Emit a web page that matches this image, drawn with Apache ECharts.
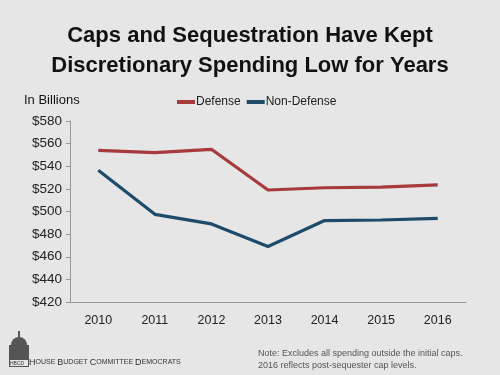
<!DOCTYPE html>
<html>
<head>
<meta charset="utf-8">
<script src="https://cdn.jsdelivr.net/npm/echarts@6/dist/echarts.min.js"></script>
<style>
  html, body { margin: 0; padding: 0; background: #e6e6e6; }
  #chart { width: 500px; height: 375px; }
</style>
</head>
<body>
<div id="chart"></div>
<script>
const years = ['2010', '2011', '2012', '2013', '2014', '2015', '2016']
const defense = [554, 552, 555, 519, 521, 521.5, 523.5]
const nonDefense = [536.5, 497.5, 489, 469, 492, 492.5, 494]

const chart = echarts.init(document.getElementById('chart'))

chart.setOption({
  backgroundColor: '#e6e6e6',
  title: {
    text: 'Caps and Sequestration Have Kept\nDiscretionary Spending Low for Years',
    left: 'center',
    top: 16,
    textStyle: {
      fontFamily: 'Liberation Sans',
      fontSize: 22,
      fontWeight: 'bold',
      color: '#111',
      lineHeight: 30,
    },
  },
  legend: {
    top: 91,
    left: 172,
    itemWidth: 18,
    itemHeight: 4,
    itemGap: 6,
    icon: 'rect',
    textStyle: { fontFamily: 'Liberation Sans', fontSize: 12, color: '#222', padding: [0, 0, 0, -4] },
    data: ['Defense', 'Non-Defense'],
  },
  grid: { left: 70, right: 34, top: 121, bottom: 73 },
  xAxis: {
    type: 'category',
    data: years,
    axisLine: { lineStyle: { color: '#999' } },
    axisTick: { lineStyle: { color: '#999' } },
    axisLabel: { fontFamily: 'Liberation Sans', fontSize: 12.5, color: '#222', margin: 12 },
  },
  yAxis: {
    type: 'value',
    name: 'In Billions',
    nameLocation: 'end',
    nameGap: 14,
    nameTextStyle: { fontFamily: 'Liberation Sans', fontSize: 13, color: '#111', align: 'left', padding: [0, 0, 0, -46] },
    min: 420,
    max: 580,
    interval: 20,
    axisLine: { show: true, lineStyle: { color: '#999' } },
    axisTick: { show: true, length: 4, lineStyle: { color: '#999' } },
    splitLine: { show: false },
    axisLabel: { fontFamily: 'Liberation Sans', fontSize: 13.5, color: '#222', margin: 8, formatter: v => '$' + v },
  },
  series: [
    {
      name: 'Defense',
      type: 'line',
      data: defense,
      showSymbol: false,
      color: '#a63a3c',
      lineStyle: { width: 3.2, color: '#a63a3c' },
    },
    {
      name: 'Non-Defense',
      type: 'line',
      data: nonDefense,
      showSymbol: false,
      color: '#1f4b6b',
      lineStyle: { width: 3.2, color: '#1f4b6b' },
    },
  ],
  graphic: [
    // simple capitol dome logo
    { type: 'rect', shape: { x: 9, y: 345, width: 20, height: 22 }, style: { fill: '#555' } },
    { type: 'circle', shape: { cx: 19, cy: 345, r: 8 }, style: { fill: '#555' } },
    { type: 'rect', shape: { x: 18, y: 331, width: 2, height: 8 }, style: { fill: '#555' } },
    { type: 'rect', shape: { x: 10, y: 360, width: 18, height: 6 }, style: { fill: '#e6e6e6' } },
    { type: 'text', left: 10, top: 361, style: { text: 'HBCD', fontSize: 5, fill: '#333', fontFamily: 'Liberation Sans' } },
    {
      type: 'text', left: 29, top: 358,
      style: {
        rich: {
          b: { fontSize: 9, fill: '#333', fontFamily: 'Liberation Sans' },
          s: { fontSize: 7, fill: '#333', fontFamily: 'Liberation Sans' },
        },
        text: '{b|H}{s|OUSE }{b|B}{s|UDGET }{b|C}{s|OMMITTEE }{b|D}{s|EMOCRATS}',
      },
    },
    {
      type: 'text', left: 258, top: 347,
      style: {
        text: 'Note: Excludes all spending outside the initial caps.\n2016 reflects post-sequester cap levels.',
        fontSize: 9, lineHeight: 12.5, fill: '#555', fontFamily: 'Liberation Sans',
      },
    },
  ],
})
</script>
</body>
</html>
